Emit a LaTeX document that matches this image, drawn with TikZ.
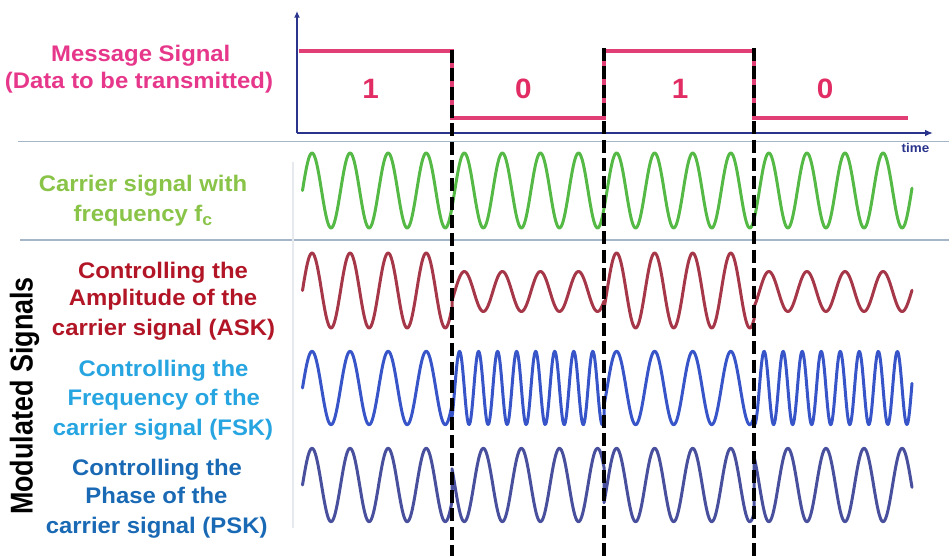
\documentclass[tikz,border=0pt]{standalone}
\usepackage{fontspec}
\setmainfont{Liberation Sans}
\newfontfamily\lblfont{Liberation Sans}[FakeStretch=1.06]
\usetikzlibrary{arrows.meta}
\definecolor{msgtext}{RGB}{230,55,139}
\definecolor{msgline}{RGB}{226,62,118}
\definecolor{digit}{RGB}{225,45,100}
\definecolor{cartext}{RGB}{137,196,72}
\definecolor{carwave}{RGB}{85,185,70}
\definecolor{asktext}{RGB}{178,22,38}
\definecolor{askwave}{RGB}{165,55,72}
\definecolor{fsktext}{RGB}{38,165,225}
\definecolor{fskwave}{RGB}{55,85,200}
\definecolor{psktext}{RGB}{25,105,180}
\definecolor{pskwave}{RGB}{72,80,158}
\definecolor{axiscol}{RGB}{42,52,140}
\definecolor{sepcol}{RGB}{165,182,200}
\definecolor{faintcol}{RGB}{230,233,237}
\begin{document}
\begin{tikzpicture}[x=0.75pt,y=-0.75pt,
  lbl/.style={anchor=base,inner sep=0pt,font=\lblfont\bfseries\fontsize{16.9}{20}\selectfont},
  digitlbl/.style={anchor=base,inner sep=0pt,text=digit,font=\lblfont\bfseries\fontsize{21}{24}\selectfont},
  wave/.style={line width=2.25pt,line join=round,line cap=round},
  sepline/.style={draw=sepcol,line width=0.8pt},
  bitline/.style={draw=black,line width=3pt,dash pattern=on 9.75pt off 4pt},
  axisline/.style={draw=axiscol,line width=2pt}]
\useasboundingbox (0,0) rectangle (949,556);
\fill[white] (0,0) rectangle (949,556);

% separators
\draw[sepline] (18,141.5) -- (949,141.5);
\draw[sepline] (20,240) -- (949,240);
\draw[draw=faintcol,line width=0.8pt] (293,162) -- (293,528);

% axes
\coordinate (O) at (297,133);
\coordinate (ytop) at (297,11);
\coordinate (xend) at (933,133);
\draw[axisline,-{Latex[length=5pt,width=4.5pt]}] (O) -- (ytop);
\draw[axisline,-{Latex[length=6pt,width=5pt]}] (O) -- (xend);
\node[text=axiscol,font=\lblfont\bfseries\fontsize{9.5}{10}\selectfont,inner sep=0pt] (timelbl) at (915.5,147.5) {time};

% message signal
\draw[draw=msgline,line width=3pt,line join=miter] (299,51.5) -- (452,51.5) -- (452,118.5) -- (604,118.5) -- (604,51.5) -- (754,51.5) -- (754,118.5) -- (908,118.5);
\node[digitlbl] (d1) at (370.7,98.3) {1};
\node[digitlbl] (d2) at (523.3,98.3) {0};
\node[digitlbl] (d3) at (680,98.3) {1};
\node[digitlbl] (d4) at (825,98.3) {0};

% carrier
\draw[wave,draw=carwave] plot[domain=302.5:912,samples=600] (\x,{190.5-37.5*sin((\x-302.5)*9.4563)});

% ASK
\draw[wave,draw=askwave]
  plot[domain=302.5:452,samples=151] (\x,{290.5-37.5*sin((\x-302.5)*9.4563)})
  -- plot[domain=452:604,samples=151] (\x,{291.5-20*sin((\x-302.5)*9.4563)})
  -- plot[domain=604:754,samples=151] (\x,{290.5-37.5*sin((\x-302.5)*9.4563)})
  -- plot[domain=754:912,samples=151] (\x,{291.5-20*sin((\x-302.5)*9.4563)});

% FSK
\draw[wave,draw=fskwave]
  plot[domain=302.5:452,samples=151] (\x,{388-36.7*sin((\x-302.5)*9.4563)})
  -- plot[domain=452:604,samples=201] (\x,{388-36.7*sin((\x-302.5)*18.9126)})
  -- plot[domain=604:754,samples=151] (\x,{388-36.7*sin((\x-302.5)*9.4563)})
  -- plot[domain=754:912,samples=201] (\x,{388-36.7*sin((\x-302.5)*18.9126)});

% PSK
\draw[wave,draw=pskwave]
  plot[domain=302.5:452,samples=151] (\x,{485-36.7*sin((\x-302.5)*9.4563)})
  -- plot[domain=452:604,samples=151] (\x,{485+36.7*sin((\x-302.5)*9.4563)})
  -- plot[domain=604:754,samples=151] (\x,{485-36.7*sin((\x-302.5)*9.4563)})
  -- plot[domain=754:912,samples=151] (\x,{485+36.7*sin((\x-302.5)*9.4563)});

% bit boundaries
\coordinate (b1t) at (452,50); \coordinate (b1b) at (452,556);
\coordinate (b2t) at (604,48); \coordinate (b2b) at (604,556);
\coordinate (b3t) at (754,48); \coordinate (b3b) at (754,556);
\draw[bitline] (b1t) -- (b1b);
\draw[bitline] (b2t) -- (b2b);
\draw[bitline] (b3t) -- (b3b);

% labels
\node[lbl,text=msgtext] (m1) at (140.8,61.7) {Message Signal};
\node[lbl,text=msgtext] (m2) at (139,88.3) {(Data to be transmitted)};

\node[lbl,text=cartext] (c1) at (143,191.5) {Carrier signal with};
\node[lbl,text=cartext] (c2) at (143,221) {frequency f\raisebox{-3pt}{\fontsize{12.5}{13}\selectfont c}};

\node[lbl,text=asktext] (a1) at (163,278.3) {Controlling the};
\node[lbl,text=asktext] (a2) at (163,305) {Amplitude of the};
\node[lbl,text=asktext] (a3) at (163.5,335) {carrier signal (ASK)};

\node[lbl,text=fsktext] (f1) at (163.5,376.7) {Controlling the};
\node[lbl,text=fsktext] (f2) at (163.8,405) {Frequency of the};
\node[lbl,text=fsktext] (f3) at (163,435) {carrier signal (FSK)};

\node[lbl,text=psktext] (p1) at (157,475) {Controlling the};
\node[lbl,text=psktext] (p2) at (156.5,503.3) {Phase of the};
\node[lbl,text=psktext] (p3) at (156.7,533.3) {carrier signal (PSK)};

\node[anchor=base,inner sep=0pt,rotate=90,font=\bfseries\fontsize{20.2}{22}\selectfont] (mod) at (32.7,396) {\scalebox{1}[1.17]{Modulated Signals}};
\end{tikzpicture}
\end{document}
